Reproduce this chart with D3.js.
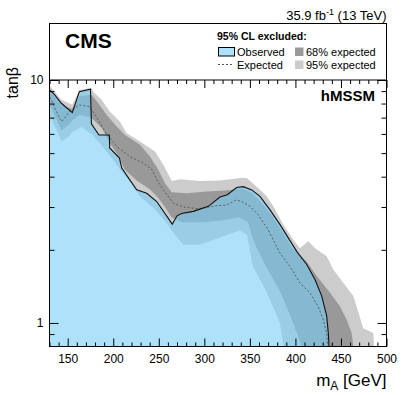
<!DOCTYPE html>
<html>
<head>
<meta charset="utf-8">
<script src="https://cdn.jsdelivr.net/npm/d3@7"></script>
<style>
  body { margin: 0; background: #fff; }
  svg { display: block; font-family: "Liberation Sans", Arial, Helvetica, sans-serif; }
</style>
</head>
<body>
<script>
// observed exclusion contour (mA in GeV, tan beta)
const obsMA = [130, 135.5, 143, 155, 162.7, 175, 176, 184.3, 195.7, 196.1, 206.8, 209.3, 225.7, 236.7, 247.7, 264.8, 270, 275.1, 287.9, 304.4, 317.2, 325.2, 335.5, 342.8, 352, 361.1, 372.1, 383.1, 392.2, 401.4, 412.4, 421.5, 428.9, 434.3, 436.1, 436.9];
const obsTanb = [9.10, 8.70, 8.02, 7.34, 8.95, 9.16, 6.6, 5.94, 5.94, 5.25, 4.77, 4.34, 3.53, 3.42, 3.16, 2.55, 2.76, 2.82, 2.88, 3.02, 3.30, 3.37, 3.61, 3.64, 3.53, 3.32, 2.92, 2.54, 2.24, 1.97, 1.74, 1.51, 1.29, 1.07, 0.91, 0.80];

// median expected
const expMA = [130, 132, 137, 143, 145, 152, 163, 174, 181, 191, 204, 218, 233, 242, 248, 255, 266, 277, 295, 313, 325, 335, 341, 350, 359, 370, 383, 394, 405, 416, 425, 430.6, 434.3, 435.4];
const expTanb = [8.5, 8.29, 7.5, 6.74, 6.85, 7.41, 7.89, 7.77, 7.07, 6.13, 5.32, 4.84, 4.55, 4.30, 3.88, 3.53, 3.11, 3.00, 2.95, 3.04, 3.06, 3.21, 3.16, 3.02, 2.79, 2.42, 1.94, 1.71, 1.46, 1.33, 1.17, 1.03, 0.91, 0.80];

// expected +1 sigma / +2 sigma
const p1MA = [130, 143, 155, 163, 176.3, 183.6, 192.8, 203.8, 212.9, 229.4, 240.3, 249.5, 256.8, 264.2, 280.6, 302.6, 317.2, 326.3, 342.5, 352.3, 363.3, 374.3, 386.4, 396.3, 412.4, 423.4, 438, 449, 456.3, 461.8, 463.6];
const p1Tanb = [9.0, 7.9, 7.6, 8.6, 8.70, 8.02, 7.18, 6.43, 5.94, 5.41, 4.84, 4.27, 3.76, 3.45, 3.42, 3.48, 3.50, 3.52, 3.58, 3.43, 3.12, 2.77, 2.35, 2.04, 1.79, 1.56, 1.33, 1.17, 1.03, 0.91, 0.80];
const p2MA = [130, 143, 155, 163, 176, 178.1, 187.3, 196.4, 207.4, 214.8, 229.4, 245.8, 255, 264.2, 273.3, 295.2, 317.2, 339.2, 346.5, 357.5, 368.5, 375.7, 386.7, 397.7, 405, 414.2, 421.5, 434.3, 441.6, 452.6, 463.6, 474.5, 485.5, 486.3];
const p2Tanb = [9.5, 8.3, 7.9, 9.1, 9.3, 8.95, 8.29, 7.41, 6.74, 6.04, 5.58, 5.08, 4.48, 3.84, 3.90, 3.84, 3.86, 3.95, 3.95, 3.64, 3.32, 3.02, 2.54, 2.20, 2.03, 2.17, 2.03, 1.88, 1.66, 1.46, 1.29, 0.95, 0.91, 0.80];

// expected -1 sigma / -2 sigma
const m1MA = [130, 137, 143, 150, 155, 163, 176, 181, 188, 196, 207, 212, 226, 240, 250, 258, 264, 275, 300, 320, 338, 348, 352, 357, 368, 383, 394, 402, 407];
const m1Tanb = [7.9, 7.0, 6.2, 6.5, 6.8, 7.2, 7.0, 6.7, 6.3, 5.5, 4.8, 4.3, 3.85, 3.55, 3.25, 2.95, 2.72, 2.6, 2.6, 2.65, 2.72, 2.6, 2.3, 2.05, 1.7, 1.35, 1.08, 0.9, 0.8];
const m2MA = [130, 137, 143, 150, 155, 165, 176, 185, 196, 207, 218, 230, 245, 258, 266, 277, 295, 310, 325, 339, 347, 350, 353, 368, 383, 387];
const m2Tanb = [7.2, 6.3, 5.6, 5.8, 6.1, 6.4, 6.0, 5.5, 4.9, 4.3, 3.8, 3.3, 2.95, 2.6, 2.35, 2.1, 2.1, 2.2, 2.3, 2.4, 2.3, 2.0, 1.72, 1.35, 1.0, 0.8];

// axis ticks
const xTicks = [150, 200, 250, 300, 350, 400, 450, 500];
const xMinor = d3.range(130, 501, 10).filter(v => v % 50 !== 0);
const yTicks = [1, 10];
const yMinor = [0.9, 2, 3, 4, 5, 6, 7, 8, 9];

const W = 411, H = 395;
const svg = d3.select('body').append('svg').attr('width', W).attr('height', H);

const x = d3.scaleLinear().domain([130, 500]).range([49.5, 386.5]);
const y = d3.scaleLog().domain([0.8, 10]).range([346.5, 80]);

const zip = (ms, ts) => ms.map((m, i) => [m, ts[i]]);
const line = d3.line().x(d => x(d[0])).y(d => y(d[1]));

// curve closed down to the bottom of the plot
function areaPath(pts) {
  const closed = [[pts[0][0], 0.8]].concat(pts, [[pts[pts.length - 1][0], 0.8]]);
  return line(closed) + 'Z';
}

svg.append('clipPath').attr('id', 'plotclip')
  .append('rect')
  .attr('x', x(130)).attr('y', y(10))
  .attr('width', x(500) - x(130)).attr('height', y(0.8) - y(10));

const plot = svg.append('g').attr('clip-path', 'url(#plotclip)');

// bands drawn as layers: +2s, +1s, -1s, -2s
plot.append('path').attr('d', areaPath(zip(p2MA, p2Tanb))).attr('fill', '#cccccc');
plot.append('path').attr('d', areaPath(zip(p1MA, p1Tanb))).attr('fill', '#999999');
plot.append('path').attr('d', areaPath(zip(m1MA, m1Tanb))).attr('fill', '#cccccc');
plot.append('path').attr('d', areaPath(zip(m2MA, m2Tanb))).attr('fill', '#ffffff');

// observed excluded region
const obs = zip(obsMA, obsTanb);
plot.append('path').attr('d', areaPath(obs))
  .attr('fill', 'rgb(118,207,247)').attr('fill-opacity', 0.6);

plot.append('path').attr('d', line(zip(expMA, expTanb)))
  .attr('fill', 'none').attr('stroke', '#555').attr('stroke-width', 0.9)
  .attr('stroke-dasharray', '2,2');

plot.append('path').attr('d', line(obs))
  .attr('fill', 'none').attr('stroke', '#111').attr('stroke-width', 1.1);

// axes
function styleAxis(g) {
  g.select('.domain').remove();
  g.selectAll('.tick line').attr('stroke', '#000');
  g.selectAll('.tick text').attr('font-size', 12).attr('fill', '#000')
    .attr('font-family', '"Liberation Sans", Arial, Helvetica, sans-serif');
}

svg.append('g').attr('transform', `translate(0,${y(0.8)})`)
  .call(d3.axisBottom(x).tickValues(xTicks).tickSize(-8).tickPadding(8).tickFormat(d3.format('d')))
  .call(styleAxis);
svg.append('g').attr('transform', `translate(0,${y(0.8)})`)
  .call(d3.axisBottom(x).tickValues(xMinor).tickSize(-4).tickFormat(''))
  .call(styleAxis);
svg.append('g').attr('transform', `translate(0,${y(10)})`)
  .call(d3.axisTop(x).tickValues(xTicks).tickSize(-8).tickFormat(''))
  .call(styleAxis);
svg.append('g').attr('transform', `translate(0,${y(10)})`)
  .call(d3.axisTop(x).tickValues(xMinor).tickSize(-4).tickFormat(''))
  .call(styleAxis);

svg.append('g').attr('transform', `translate(${x(130)},0)`)
  .call(d3.axisLeft(y).tickValues(yTicks).tickSize(-9).tickPadding(6).tickFormat(d3.format('d')))
  .call(styleAxis);
svg.append('g').attr('transform', `translate(${x(130)},0)`)
  .call(d3.axisLeft(y).tickValues(yMinor).tickSize(-5).tickFormat(''))
  .call(styleAxis);
svg.append('g').attr('transform', `translate(${x(500)},0)`)
  .call(d3.axisRight(y).tickValues(yTicks).tickSize(-9).tickFormat(''))
  .call(styleAxis);
svg.append('g').attr('transform', `translate(${x(500)},0)`)
  .call(d3.axisRight(y).tickValues(yMinor).tickSize(-5).tickFormat(''))
  .call(styleAxis);

// frame: plot box plus header box above it
svg.append('rect')
  .attr('x', x(130)).attr('y', 23.5)
  .attr('width', x(500) - x(130)).attr('height', y(0.8) - 23.5)
  .attr('fill', 'none').attr('stroke', '#000').attr('stroke-width', 1);
svg.append('line')
  .attr('x1', x(130)).attr('x2', x(500)).attr('y1', y(10)).attr('y2', y(10))
  .attr('stroke', '#000');

// labels
svg.append('text').attr('x', 65).attr('y', 48)
  .attr('font-size', 21).attr('font-weight', 'bold').text('CMS');

const lumi = svg.append('text').attr('x', 386.5).attr('y', 20)
  .attr('text-anchor', 'end').attr('font-size', 13);
lumi.append('tspan').text('35.9 fb');
lumi.append('tspan').attr('font-size', 9).attr('dy', -5).text('-1');
lumi.append('tspan').attr('dy', 5).text(' (13 TeV)');

svg.append('text').attr('x', 375).attr('y', 101)
  .attr('text-anchor', 'end').attr('font-size', 15).attr('font-weight', 'bold')
  .text('hMSSM');

const xl = svg.append('text').attr('x', 386.5).attr('y', 386)
  .attr('text-anchor', 'end').attr('font-size', 17);
xl.append('tspan').text('m');
xl.append('tspan').attr('font-size', 12).attr('dy', 4).text('A');
xl.append('tspan').attr('dy', -4).text(' [GeV]');

svg.append('text').attr('transform', 'translate(18,67) rotate(-90)')
  .attr('text-anchor', 'end').attr('font-size', 16).text('tanβ');

// legend
const leg = svg.append('g').attr('font-size', 11);
leg.append('text').attr('x', 217).attr('y', 39.5)
  .attr('font-weight', 'bold').attr('font-size', 10.5).text('95% CL excluded:');
leg.append('rect').attr('x', 218.5).attr('y', 47.5).attr('width', 16).attr('height', 8.5)
  .attr('fill', 'rgb(173,226,250)').attr('stroke', '#000').attr('stroke-width', 1);
leg.append('text').attr('x', 237).attr('y', 55.5).text('Observed');
leg.append('line').attr('x1', 218).attr('x2', 234).attr('y1', 64.5).attr('y2', 64.5)
  .attr('stroke', '#555').attr('stroke-dasharray', '2,2');
leg.append('text').attr('x', 237).attr('y', 68.5).text('Expected');
leg.append('rect').attr('x', 295).attr('y', 47.5).attr('width', 8.5).attr('height', 8.5)
  .attr('fill', '#999999');
leg.append('text').attr('x', 306).attr('y', 55.5).text('68% expected');
leg.append('rect').attr('x', 295).attr('y', 60.5).attr('width', 8.5).attr('height', 8.5)
  .attr('fill', '#cccccc');
leg.append('text').attr('x', 306).attr('y', 68.5).text('95% expected');
</script>
</body>
</html>
